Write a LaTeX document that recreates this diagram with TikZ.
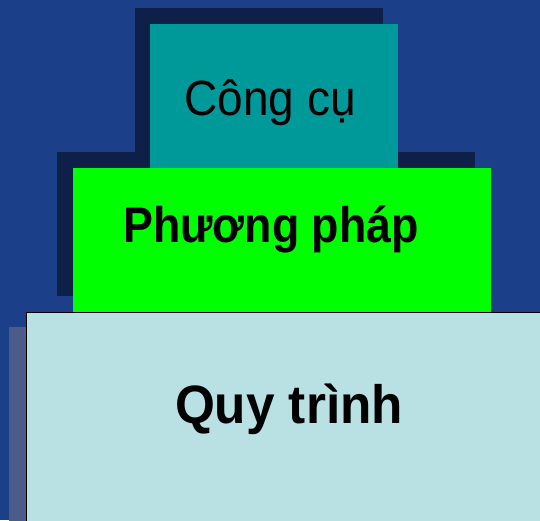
\documentclass[tikz,border=0pt]{standalone}
\usepackage{fontspec}
\setmainfont{Liberation Sans}
\definecolor{bgblue}{HTML}{1C3F8A}
\definecolor{shadowblue}{HTML}{0F2048}
\definecolor{tealbox}{HTML}{009999}
\definecolor{greenbox}{HTML}{00FF00}
\definecolor{lightbox}{HTML}{B9E0E3}
\definecolor{greystrip}{HTML}{4B5C88}
\begin{document}
\begin{tikzpicture}[x=1pt,y=-1pt,
  box/.style={rectangle, inner sep=0pt, outer sep=0pt, draw=none},
  lbl/.style={anchor=base, inner sep=0pt, text=black}]
\useasboundingbox (0,0) rectangle (540,520);
\clip (0,0) rectangle (540,520);
\fill[bgblue] (0,0) rectangle (540,520);
% shadows
\node[box, fill=shadowblue, minimum width=248pt, minimum height=160pt] (toolshadow) at (258.5,88) {};
\node[box, fill=shadowblue, minimum width=418pt, minimum height=144pt] (methshadow) at (266,224) {};
\node[box, fill=greystrip, minimum width=17pt, minimum height=200pt] (procshadow) at (17.5,427) {};
% boxes
\node[box, fill=tealbox, minimum width=248pt, minimum height=146pt] (tool) at (274,97) {};
\node[box, fill=greenbox, minimum width=418pt, minimum height=144pt] (method) at (281.5,240) {};
\node[box, fill=lightbox, draw=black, line width=1pt, minimum width=530pt, minimum height=220pt] (process) at (291.5,422.5) {};
% labels
\node[lbl, font=\fontsize{49.5}{49.5}\selectfont] (tooltext) at (270,115.5) {\scalebox{0.93}[1]{Công cụ}};
\node[lbl, font=\fontsize{50}{50}\selectfont\bfseries] (methtext) at (271,242.5) {\scalebox{0.895}[1]{Phương pháp}};
\node[lbl, font=\fontsize{54}{54}\selectfont\bfseries] (proctext) at (289,423) {\scalebox{0.95}[1]{Quy trình}};
\end{tikzpicture}
\end{document}
